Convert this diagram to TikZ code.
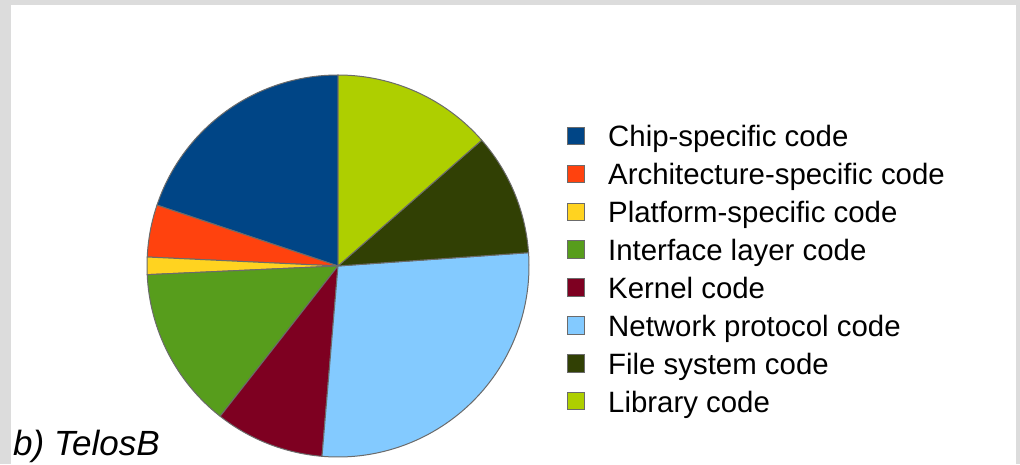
\documentclass[tikz,border=0pt]{standalone}
\usepackage{fontspec}
\setmainfont{Liberation Sans}
\definecolor{cchip}{HTML}{004586}
\definecolor{carch}{HTML}{FF420E}
\definecolor{cplat}{HTML}{FFD320}
\definecolor{cintf}{HTML}{579D1C}
\definecolor{ckern}{HTML}{7E0021}
\definecolor{cnet}{HTML}{83CAFF}
\definecolor{cfs}{HTML}{314004}
\definecolor{clib}{HTML}{AECF00}
\definecolor{edgegray}{HTML}{6B6B6B}
\definecolor{bordergray}{HTML}{DCDCDC}
\tikzset{
  slice/.style={draw=edgegray, line width=1pt, line join=round},
  legbox/.style={draw=edgegray, line width=0.8pt, minimum size=17.5pt, inner sep=0pt},
  legtext/.style={anchor=base west, inner sep=0pt, font=\fontsize{29.4}{35}\selectfont},
}
\newcommand{\pieslice}[3]{%
  \fill[#1] (ctr) -- ++(#2:191) arc[start angle=#2, end angle=#3, radius=191] -- cycle;
  \draw[slice] (ctr) -- ++(#2:191) arc[start angle=#2, end angle=#3, radius=191] -- cycle;
}
\begin{document}
\begin{tikzpicture}[x=1pt,y=1pt]
\useasboundingbox (0,0) rectangle (1020,464);
\fill[bordergray] (0,0) rectangle (1020,464);
\fill[white] (11,0) rectangle (1016,459);
\coordinate (ctr) at (338,198);
\pieslice{cchip}{90}{161.4}
\pieslice{carch}{161.4}{177.3}
\pieslice{cplat}{177.3}{182.6}
\pieslice{cintf}{182.6}{231.9}
\pieslice{ckern}{231.9}{265.2}
\pieslice{cnet}{265.2}{364}
\pieslice{cfs}{4}{41.2}
\pieslice{clib}{41.2}{90}
% legend
\foreach \i/\c/\t in {0/cchip/Chip-specific code,
                      1/carch/Architecture-specific code,
                      2/cplat/Platform-specific code,
                      3/cintf/Interface layer code,
                      4/ckern/Kernel code,
                      5/cnet/Network protocol code,
                      6/cfs/File system code,
                      7/clib/Library code}{
  \node[legbox, fill=\c] (box\i) at (575.7, {464-136-37.86*\i}) {};
  \node[legtext] (lab\i) at (608, {464-147-37.86*\i}) {\t};
}
\node[anchor=base west, inner sep=0pt, font=\fontsize{35}{40}\selectfont\itshape] (title) at (13,9) {b) TelosB};
\end{tikzpicture}
\end{document}
